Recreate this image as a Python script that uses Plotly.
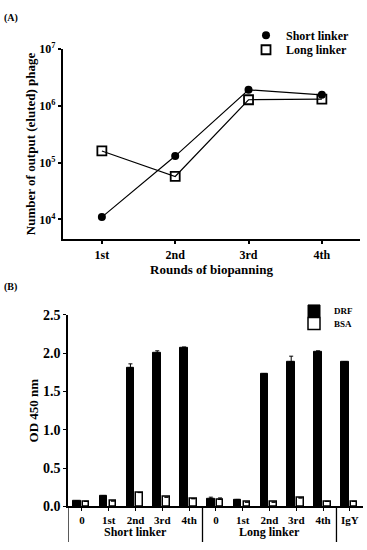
import plotly.graph_objects as go

# ---------- Panel A data ----------
rounds = ["1st", "2nd", "3rd", "4th"]
short_linker = [1.1e4, 1.3e5, 1.9e6, 1.55e6]
long_linker = [1.6e5, 5.7e4, 1.27e6, 1.3e6]
a_ytick_vals = [1e4, 1e5, 1e6, 1e7]
a_ytick_text = ["10<sup>4</sup>", "10<sup>5</sup>", "10<sup>6</sup>", "10<sup>7</sup>"]

# ---------- Panel B data ----------
b_categories = ["0", "1st", "2nd", "3rd", "4th", "0", "1st", "2nd", "3rd", "4th", "IgY"]
drf = [0.07, 0.14, 1.81, 2.00, 2.07, 0.10, 0.09, 1.73, 1.89, 2.02, 1.89]
drf_err = [0.0, 0.0, 0.05, 0.03, 0.01, 0.02, 0.0, 0.0, 0.07, 0.01, 0.0]
bsa = [0.065, 0.07, 0.18, 0.12, 0.10, 0.09, 0.055, 0.055, 0.11, 0.065, 0.065]
bsa_err = [0.0, 0.0, 0.0, 0.0, 0.0, 0.02, 0.0, 0.0, 0.0, 0.0, 0.0]
b_yticks = [0.0, 0.5, 1.0, 1.5, 2.0, 2.5]
group_labels = ["Short linker", "Long linker"]
group_centers = [2, 7]
group_dividers = [4.5, 9.5]

FONT = "Liberation Serif"
W, H = 367, 550


def f(size):
    return dict(family=FONT, size=size, color="black", weight="bold")


fig = go.Figure()
xa = list(range(len(rounds)))

# Panel A traces
fig.add_trace(go.Scatter(x=xa, y=short_linker, mode="lines+markers",
                         line=dict(color="black", width=1.2),
                         marker=dict(symbol="circle", size=8, color="black"),
                         showlegend=False, xaxis="x", yaxis="y"))
fig.add_trace(go.Scatter(x=xa, y=long_linker, mode="lines+markers",
                         line=dict(color="black", width=1.2),
                         marker=dict(symbol="square-open", size=9, color="black",
                                     line=dict(width=1.8)),
                         showlegend=False, xaxis="x", yaxis="y"))
# legend-only entries A (one legend per entry for exact spacing)
fig.add_trace(go.Scatter(x=[None], y=[None], mode="markers", name="Short linker",
                         marker=dict(symbol="circle", size=8, color="black"),
                         legend="legend", xaxis="x", yaxis="y"))
fig.add_trace(go.Scatter(x=[None], y=[None], mode="markers", name="Long linker",
                         marker=dict(symbol="square-open", size=9, color="black",
                                     line=dict(width=1.8)),
                         legend="legend2", xaxis="x", yaxis="y"))

# Panel B traces
xb = list(range(len(b_categories)))
fig.add_trace(go.Bar(x=xb, y=drf, name="DRF", width=0.28, offset=-0.33,
                     marker=dict(color="black", line=dict(color="black", width=1)),
                     error_y=dict(type="data", array=drf_err, arrayminus=[0] * len(drf_err),
                                  color="black", thickness=1, width=2),
                     legend="legend3", xaxis="x2", yaxis="y2"))
fig.add_trace(go.Bar(x=xb, y=bsa, name="BSA", width=0.25, offset=0.03,
                     marker=dict(color="white", line=dict(color="black", width=1.5)),
                     error_y=dict(type="data", array=bsa_err, arrayminus=[0] * len(bsa_err),
                                  color="black", thickness=1, width=2),
                     legend="legend4", xaxis="x2", yaxis="y2"))

ya0, ya1 = 1 - 238 / H, 1 - 42 / H
yb0, yb1 = 1 - 513.3 / H, 1 - 316 / H

shapes = []
# y axis B extension and group dividers below the axis
for xv in [-0.52] + group_dividers:
    shapes.append(dict(type="line", xref="x2", yref="paper", x0=xv, x1=xv,
                       y0=0, y1=yb0, line=dict(color="black", width=1.3)))

annotations = [
    dict(text="(A)", xref="paper", yref="paper", x=2 / W, y=1 - 2 / H,
         xanchor="left", yanchor="top", showarrow=False, font=f(10)),
    dict(text="(B)", xref="paper", yref="paper", x=2 / W, y=1 - 279 / H,
         xanchor="left", yanchor="top", showarrow=False, font=f(10)),
]
for lbl, cx in zip(group_labels, group_centers):
    annotations.append(dict(text=lbl, xref="x2", yref="paper", x=cx, y=1 - 540 / H,
                            xanchor="center", yanchor="middle", showarrow=False,
                            font=f(12)))


def leg(xpx, ypx, size):
    return dict(x=xpx / W, y=1 - ypx / H, xanchor="left", yanchor="middle",
                bgcolor="rgba(0,0,0,0)", font=f(size), borderwidth=0)


fig.update_layout(
    width=W, height=H,
    margin=dict(l=0, r=0, t=0, b=0),
    paper_bgcolor="white", plot_bgcolor="white",
    font=f(12),
    barmode="overlay",
    bargap=0,
    shapes=shapes,
    annotations=annotations,
    xaxis=dict(domain=[63 / W, 360 / W], anchor="y", range=[-0.53, 3.52],
               tickvals=xa, ticktext=rounds, tickfont=f(12),
               showline=True, linecolor="black", linewidth=2.2,
               ticks="outside", ticklen=3, tickwidth=1.5, tickcolor="black",
               showgrid=False, zeroline=False, ticklabeloverflow="allow",
               title=dict(text="Rounds of biopanning", font=f(13), standoff=4)),
    yaxis=dict(domain=[ya0, ya1], anchor="x", type="log", range=[3.655, 7.0],
               tickvals=a_ytick_vals, ticktext=a_ytick_text, tickfont=f(12),
               showline=True, linecolor="black", linewidth=2.2,
               ticks="outside", ticklen=3, tickwidth=1.5, tickcolor="black",
               showgrid=False, zeroline=False, ticklabeloverflow="allow",
               title=dict(text="Number of output (eluted) phage", font=f(13), standoff=1)),
    xaxis2=dict(domain=[68 / W, 363 / W], anchor="y2", range=[-0.52, 10.49],
                tickvals=xb, ticktext=b_categories, tickfont=f(11),
                showline=True, linecolor="black", linewidth=1.5,
                ticks="outside", ticklen=3, tickwidth=1.2, tickcolor="black",
                showgrid=False, zeroline=False, ticklabeloverflow="allow"),
    yaxis2=dict(domain=[yb0, yb1], anchor="x2", range=[0, 2.5],
                tickvals=b_yticks, ticktext=[f"{v:.1f}" for v in b_yticks], tickfont=f(14),
                showline=True, linecolor="black", linewidth=1.5,
                ticks="outside", ticklen=3, tickwidth=1.2, tickcolor="black",
                showgrid=False, zeroline=False, ticklabeloverflow="allow",
                title=dict(text="OD 450 nm", font=f(13), standoff=1)),
    legend=leg(246, 28, 12),
    legend2=leg(246, 43, 12),
    legend3=leg(294, 312, 9),
    legend4=leg(294, 325, 9),
)

fig.write_html("out.html",
               config={"displayModeBar": False},
               post_script="document.body.style.margin='0px';"
                           "document.body.style.overflow='hidden';")
